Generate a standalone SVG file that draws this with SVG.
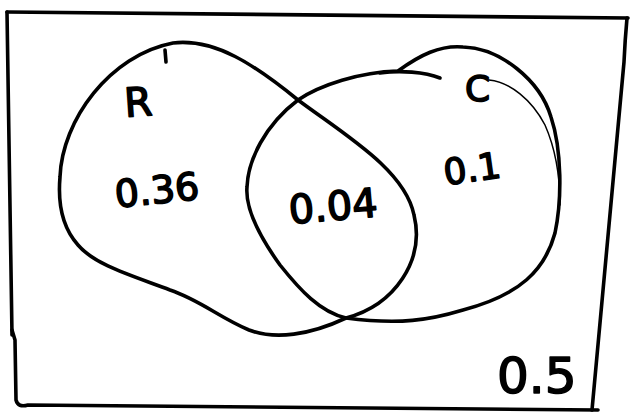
<svg xmlns="http://www.w3.org/2000/svg" width="631" height="416" viewBox="0 0 631 416">
<style>
.ln{fill:none;stroke:#000;stroke-width:3.6;stroke-linecap:round;stroke-linejoin:round}
.thin{fill:none;stroke:#000;stroke-width:1.5;stroke-linecap:round}
.hw{font-family:"DejaVu Sans",sans-serif;fill:#000;stroke:#000;stroke-width:1.6;stroke-linejoin:round}
</style>
<rect width="631" height="416" fill="#fff"/>
<g id="universe">
<path class="ln" d="M7,12 L628,18"/>
<path class="ln" d="M627,18 Q625,40 624,62 L592,410"/>
<path class="ln" d="M7,12 L12,335"/>
<path class="ln" d="M12,330 L15,340 L16,400 Q18,408 28,405 L598,410"/>
<text class="hw" x="497" y="393" font-size="50">0.5</text>
</g>
<g id="R">
<path class="ln" d="M173,43 C215,38 255,65 298,100 C345,135 405,170 414,215 C425,260 395,305 346,318 C310,335 275,340 249,330 C220,318 200,300 170,290 C130,275 95,265 78,245 C60,225 58,200 60,177 C62,120 110,55 173,43 Z"/>
<path class="ln" d="M165,50 L166,62" stroke-width="2.5"/>
<text class="hw" x="124" y="116" font-size="40" transform="rotate(-4 140 100)">R</text>
<text class="hw" x="114" y="203" font-size="38" transform="rotate(-6 160 185)">0.36</text>
</g>
<g id="C">
<path class="ln" d="M398,71 C420,55 440,45 463,47 C500,48 540,80 551,117 C562,150 562,200 555,233 C545,270 520,295 463,310 C430,320 400,325 346,318 C320,312 300,290 280,265 C262,240 245,210 247,187 C248,160 265,125 298,100 C320,85 360,72 398,71"/>
<path class="ln" d="M380,73 C400,70 425,72 440,78" stroke-width="2.5"/>
<text class="hw" x="465" y="101" font-size="36">C</text>
<text class="hw" x="443" y="181" font-size="36" transform="rotate(-8 475 165)">0.1</text>
<text class="hw" x="288" y="220" font-size="40" transform="rotate(-5 335 200)">0.04</text>
</g>
<g id="connectors">
<path class="thin" d="M489,80 C510,82 532,100 545,125 C556,150 560,180 560,205"/>
</g>
</svg>
